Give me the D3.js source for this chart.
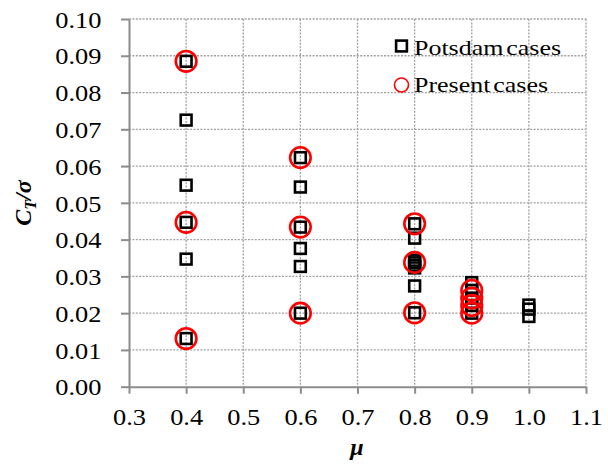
<!DOCTYPE html>
<html>
<head>
<meta charset="utf-8">
<script src="https://cdn.jsdelivr.net/npm/d3@7"></script>
<style>
  html, body { margin: 0; padding: 0; background: #fff; }
  svg { display: block; }
  text { font-family: "Liberation Serif", "Times New Roman", serif; fill: #000; }
</style>
</head>
<body>
<svg id="chart" width="608" height="467"></svg>
<script>
// Thrust coefficient over solidity against advance ratio
const potsdamMu = [0.4, 0.4, 0.4, 0.4, 0.4, 0.4,
                   0.6, 0.6, 0.6, 0.6, 0.6, 0.6,
                   0.8, 0.8, 0.8, 0.8, 0.8, 0.8, 0.8, 0.8,
                   0.9, 0.9, 0.9, 0.9, 0.9,
                   1.0, 1.0, 1.0];
const potsdamCt = [0.0885, 0.0725, 0.0548, 0.0447, 0.0347, 0.0131,
                   0.0623, 0.0543, 0.0434, 0.0376, 0.0327, 0.0200,
                   0.0443, 0.0404, 0.0344, 0.0337, 0.0330, 0.0323, 0.0274, 0.0201,
                   0.0283, 0.0262, 0.0241, 0.0221, 0.0200,
                   0.0222, 0.0211, 0.0191];

const presentMu = [0.4, 0.4, 0.4, 0.6, 0.6, 0.6, 0.8, 0.8, 0.8, 0.9, 0.9, 0.9, 0.9];
const presentCt = [0.0885, 0.0447, 0.0131, 0.0623, 0.0434, 0.0200,
                   0.0443, 0.0338, 0.0201, 0.0262, 0.0241, 0.0221, 0.0200];

const xTicks = [0.3, 0.4, 0.5, 0.6, 0.7, 0.8, 0.9, 1.0, 1.1];
const yTicks = [0.00, 0.01, 0.02, 0.03, 0.04, 0.05, 0.06, 0.07, 0.08, 0.09, 0.10];
const legendLabels = ["Potsdam cases", "Present cases"];

const svg = d3.select("#chart");
const plotLeft = 129, plotRight = 586, plotTop = 19, plotBottom = 386.7;
const stretch = 1.1;

const x = d3.scaleLinear().domain([0.3, 1.1]).range([plotLeft, plotRight]);
const y = d3.scaleLinear().domain([0, 0.1]).range([plotBottom, plotTop]);

// dotted grid
const grid = svg.append("g")
  .attr("stroke", "#a0a0a0")
  .attr("stroke-width", 1.3)
  .attr("stroke-dasharray", "2,1.4")
  .attr("fill", "none");
grid.selectAll("line.h").data(yTicks.slice(1)).join("line")
  .attr("class", "h")
  .attr("x1", plotLeft).attr("x2", plotRight)
  .attr("y1", d => y(d)).attr("y2", d => y(d));
grid.selectAll("line.v").data(xTicks.slice(1)).join("line")
  .attr("class", "v")
  .attr("y1", plotTop).attr("y2", plotBottom)
  .attr("x1", d => x(d)).attr("x2", d => x(d));

// axes
const yAxis = svg.append("g")
  .attr("transform", `translate(${plotLeft},0)`)
  .call(d3.axisLeft(y).tickValues(yTicks).tickFormat(d3.format(".2f")).tickSize(8).tickSizeOuter(0));
const xAxis = svg.append("g")
  .attr("transform", `translate(0,${plotBottom})`)
  .call(d3.axisBottom(x).tickValues(xTicks).tickFormat(d3.format(".1f")).tickSize(7).tickSizeOuter(0));

[yAxis, xAxis].forEach(a => {
  a.select(".domain").attr("stroke", "#8c8c8c").attr("stroke-width", 2);
  a.selectAll(".tick line").attr("stroke", "#8c8c8c").attr("stroke-width", 2);
  a.selectAll(".tick text")
    .attr("font-size", 24)
    .attr("fill", "#000");
});
yAxis.selectAll(".tick text")
  .attr("x", -27.5 / stretch)
  .attr("dy", "0.34em")
  .attr("transform", `scale(${stretch},1)`);
xAxis.selectAll(".tick text")
  .attr("y", 38.5)
  .attr("dy", 0)
  .attr("transform", `scale(${stretch},1)`);

// Potsdam cases: open black squares
const sq = 10.8;
svg.append("g").selectAll("rect").data(potsdamMu).join("rect")
  .attr("x", (d, i) => x(d) - sq / 2)
  .attr("y", (d, i) => y(potsdamCt[i]) - sq / 2)
  .attr("width", sq).attr("height", sq)
  .attr("fill", "none").attr("stroke", "#000").attr("stroke-width", 2.6);

// Present cases: open red circles
svg.append("g").selectAll("circle").data(presentMu).join("circle")
  .attr("cx", d => x(d))
  .attr("cy", (d, i) => y(presentCt[i]))
  .attr("r", 10.3)
  .attr("fill", "none").attr("stroke", "#ff0000").attr("stroke-width", 2.6);

// legend
const lg = svg.append("g");
const lgStretch = 1.18;
lg.append("rect")
  .attr("x", 401.5 - sq / 2).attr("y", 46 - sq / 2)
  .attr("width", sq).attr("height", sq)
  .attr("fill", "none").attr("stroke", "#000").attr("stroke-width", 2.6);
lg.append("circle")
  .attr("cx", 401.5).attr("cy", 85).attr("r", 7)
  .attr("fill", "none").attr("stroke", "#ff0000").attr("stroke-width", 1.6);
lg.selectAll("text").data(legendLabels).join("text")
  .attr("x", 414 / lgStretch)
  .attr("y", (d, i) => i === 0 ? 55 : 92.5)
  .attr("transform", `scale(${lgStretch},1)`)
  .attr("font-size", 22)
  .attr("word-spacing", "-3px")
  .text(d => d);

// axis titles
const yt = svg.append("text")
  .attr("transform", "translate(31,203) rotate(-90)")
  .attr("text-anchor", "middle")
  .attr("font-size", 24)
  .attr("font-weight", "bold")
  .attr("font-style", "italic");
yt.append("tspan").text("C");
yt.append("tspan").attr("font-size", 16).attr("dy", 5).text("T");
yt.append("tspan").attr("dy", -5).text("/σ");

svg.append("text")
  .attr("x", 357).attr("y", 455)
  .attr("text-anchor", "middle")
  .attr("font-size", 24)
  .attr("font-weight", "bold")
  .attr("font-style", "italic")
  .text("μ");
</script>
</body>
</html>
